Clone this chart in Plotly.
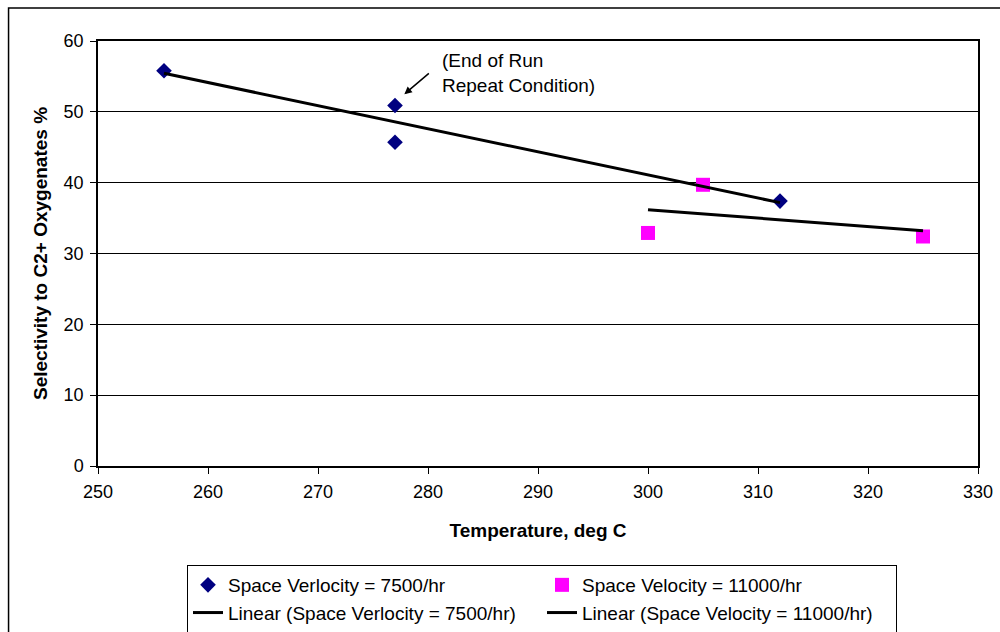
import numpy as np
import plotly.graph_objects as go

# Data
temp_7500 = [256, 277, 277, 312]
sel_7500 = [55.8, 50.9, 45.7, 37.4]
temp_11000 = [300, 305, 325]
sel_11000 = [32.9, 39.7, 32.4]

name_7500 = "Space Verlocity = 7500/hr"
name_11000 = "Space Velocity = 11000/hr"

x_ticks = [250, 260, 270, 280, 290, 300, 310, 320, 330]
y_ticks = [0, 10, 20, 30, 40, 50, 60]

FONT = "Arial, Liberation Sans, sans-serif"


def trend(xs, ys):
    m, b = np.polyfit(xs, ys, 1)
    xx = np.array([min(xs), max(xs)], dtype=float)
    return xx, m * xx + b


fig = go.Figure()
fig.add_trace(go.Scatter(
    x=temp_7500, y=sel_7500, mode="markers", name=name_7500,
    marker=dict(symbol="diamond", size=12, color="#000080"),
))
fig.add_trace(go.Scatter(
    x=temp_11000, y=sel_11000, mode="markers", name=name_11000,
    marker=dict(symbol="square", size=14, color="#FF00FF"),
))
tx, ty = trend(temp_7500, sel_7500)
fig.add_trace(go.Scatter(
    x=tx, y=ty, mode="lines", name="Linear (" + name_7500 + ")",
    line=dict(color="black", width=3),
))
tx2, ty2 = trend(temp_11000, sel_11000)
fig.add_trace(go.Scatter(
    x=tx2, y=ty2, mode="lines", name="Linear (" + name_11000 + ")",
    line=dict(color="black", width=3),
))

# Plot area geometry in pixels
L, R, T, B = 97.5, 978, 41, 466.5
W, H = R - L, B - T


def px(xp):
    return (xp - L) / W


def py(yp):
    return (B - yp) / H


fig.update_layout(
    width=1000, height=632,
    margin=dict(l=L, r=1000 - R, t=T, b=632 - B, autoexpand=False),
    paper_bgcolor="white", plot_bgcolor="white",
    font=dict(family=FONT, size=19, color="black"),
    showlegend=True,
    legend=dict(
        orientation="h", xref="container", yref="container",
        x=0.187, y=1 - 565 / 632, xanchor="left", yanchor="top",
        bgcolor="white", bordercolor="black", borderwidth=1,
        entrywidth=309, entrywidthmode="pixels",
        font=dict(family=FONT, size=19, color="black"),
    ),
    xaxis=dict(
        range=[250, 330], tickvals=x_ticks, ticktext=[str(v) for v in x_ticks],
        showgrid=False, zeroline=False, automargin=False,
        showline=True, linecolor="black", linewidth=1.5, mirror=True,
        ticks="outside", ticklen=6, tickcolor="black", ticklabelstandoff=3,
        tickfont=dict(family=FONT, size=18),
        title=dict(text="<b>Temperature, deg C</b>", standoff=22,
                   font=dict(family=FONT, size=19)),
    ),
    yaxis=dict(
        range=[0, 60], tickvals=y_ticks, ticktext=[str(v) for v in y_ticks],
        showgrid=True, gridcolor="black", gridwidth=1, zeroline=False,
        automargin=False,
        showline=True, linecolor="black", linewidth=1.5, mirror=True,
        ticks="outside", ticklen=6, tickcolor="black", ticklabelstandoff=3,
        tickfont=dict(family=FONT, size=18),
        title=dict(text="<b>Selectivity to C2+ Oxygenates %</b>", standoff=11,
                   font=dict(family=FONT, size=19)),
    ),
    annotations=[
        dict(x=277.85, y=52.5, xref="x", yref="y", text="", showarrow=True,
             ax=26, ay=-22, arrowhead=2, arrowsize=1, arrowwidth=1.5,
             arrowcolor="black"),
        dict(x=281.1, y=55.5, xref="x", yref="y",
             text="(End of Run<br>Repeat Condition)", showarrow=False,
             xanchor="left", yanchor="middle", align="left",
             font=dict(family=FONT, size=19, color="black")),
    ],
    shapes=[
        dict(type="rect", xref="paper", yref="paper",
             x0=px(8), x1=px(1004), y0=py(640), y1=py(8),
             line=dict(color="black", width=1.5), fillcolor="rgba(0,0,0,0)",
             layer="below"),
    ],
)

fig.write_html("out.html")
